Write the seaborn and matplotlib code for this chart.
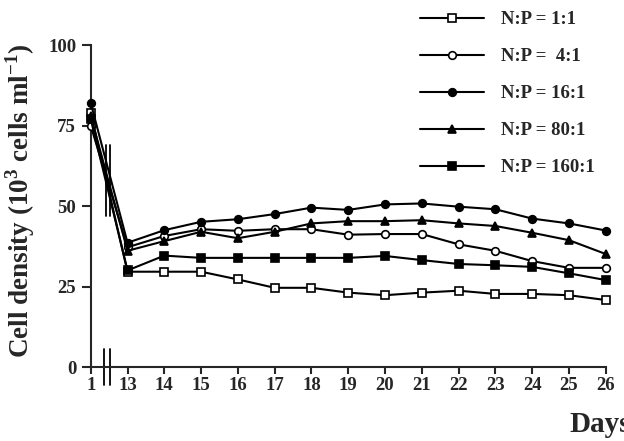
import matplotlib
matplotlib.use("Agg")
import matplotlib.pyplot as plt
import numpy as np
import pandas as pd
import seaborn as sns

# Days sampled; day 1 sits right before the axis break
DAYS = [1, 13, 14, 15, 16, 17, 18, 19, 20, 21, 22, 23, 24, 25, 26]

NP_1 = [79, 29.6, 29.6, 29.6, 27.2, 24.6, 24.6, 23.1, 22.3, 23.1, 23.7, 22.7, 22.7, 22.3, 20.8]
NP_4 = [75, 37.2, 40.7, 42.8, 42.3, 42.8, 42.8, 41.1, 41.3, 41.3, 38.1, 36.1, 32.9, 30.8, 30.8]
NP_16 = [82, 38.6, 42.5, 45.1, 45.9, 47.5, 49.5, 48.8, 50.5, 50.8, 49.8, 49.0, 46.1, 44.6, 42.4]
NP_80 = [78, 36.1, 39.1, 42.0, 40.0, 42.0, 44.6, 45.3, 45.3, 45.6, 44.6, 43.8, 41.7, 39.4, 35.1]
NP_160 = [77, 30.0, 34.6, 33.9, 33.9, 33.9, 33.9, 33.9, 34.5, 33.2, 32.0, 31.6, 31.1, 29.1, 27.0]

SERIES_LABELS = ["N:P = 1:1", "N:P =  4:1", "N:P = 16:1", "N:P = 80:1", "N:P = 160:1"]
Y_TICKS = [0, 25, 50, 75, 100]

# marker, face colour per series
STYLES = [("s", "white"), ("o", "white"), ("o", "black"), ("^", "black"), ("s", "black")]


def day_to_pos(day):
    # compress the gap between day 1 and day 13 into one unit
    return 12 if day == 1 else day


sns.set_style("ticks")
plt.rcParams["font.family"] = ["Liberation Serif", "DejaVu Serif"]
plt.rcParams["font.weight"] = "bold"
plt.rcParams["mathtext.fontset"] = "custom"
plt.rcParams["mathtext.rm"] = "Liberation Serif:bold"
plt.rcParams["mathtext.bf"] = "Liberation Serif:bold"

fig = plt.figure(figsize=(6.24, 4.41), dpi=100)
ax = fig.add_axes([0.1454, 0.1678, 0.8253, 0.730])

positions = [day_to_pos(d) for d in DAYS]
df = pd.DataFrame({"pos": positions, "1": NP_1, "4": NP_4, "16": NP_16, "80": NP_80, "160": NP_160})

for col, label, (marker, face) in zip(["1", "4", "16", "80", "160"], SERIES_LABELS, STYLES):
    sns.lineplot(
        data=df, x="pos", y=col, ax=ax, color="black", linewidth=1.5,
        marker=marker, markersize=5.5, markerfacecolor=face, markeredgecolor="black",
        markeredgewidth=1.2, label=label, clip_on=False, zorder=3,
    )

ax.set_xlim(12, 26)
ax.set_ylim(0, 100)
ax.set_xticks(positions)
ax.set_xticklabels([str(d) for d in DAYS])
ax.set_yticks(Y_TICKS)
ax.set_yticklabels([str(v) for v in Y_TICKS])
ax.tick_params(axis="y", length=6.5, width=1.5, labelsize=13.5, pad=4, direction="out")
ax.tick_params(axis="x", length=5, width=1.5, labelsize=13.5, pad=2, direction="out")
for lab in ax.get_xticklabels() + ax.get_yticklabels():
    lab.set_fontweight("bold")

sns.despine(ax=ax)
ax.spines["left"].set_linewidth(1.5)
ax.spines["bottom"].set_linewidth(1.5)

ax.set_xlabel("")
ax.set_ylabel(r"Cell density (10$^{3}$ cells ml$^{-1}$)", fontsize=19.5, fontweight="bold")
ax.yaxis.set_label_coords(-0.104, 0.515)

# axis break marks on x axis and across the data lines
for bx in (12.36, 12.52):
    ax.plot([bx, bx], [-0.055, 0.055], transform=ax.get_xaxis_transform(),
            color="black", linewidth=1.3, clip_on=False)
for bx in (12.42, 12.53):
    ax.plot([bx, bx], [47, 69], color="black", linewidth=1.3, clip_on=False)

fig.text(569 / 624, 9 / 441, "Days", ha="left", va="baseline", fontsize=21, fontweight="bold")

leg = ax.legend(
    loc="upper left", bbox_to_anchor=(0.673, 0.975), bbox_transform=fig.transFigure,
    frameon=False, fontsize=13.5, handlelength=3.4, handletextpad=0.9,
    labelspacing=1.06, borderpad=0, borderaxespad=0,
)
for t in leg.get_texts():
    t.set_fontweight("bold")

fig.savefig("out.png", dpi=100)
